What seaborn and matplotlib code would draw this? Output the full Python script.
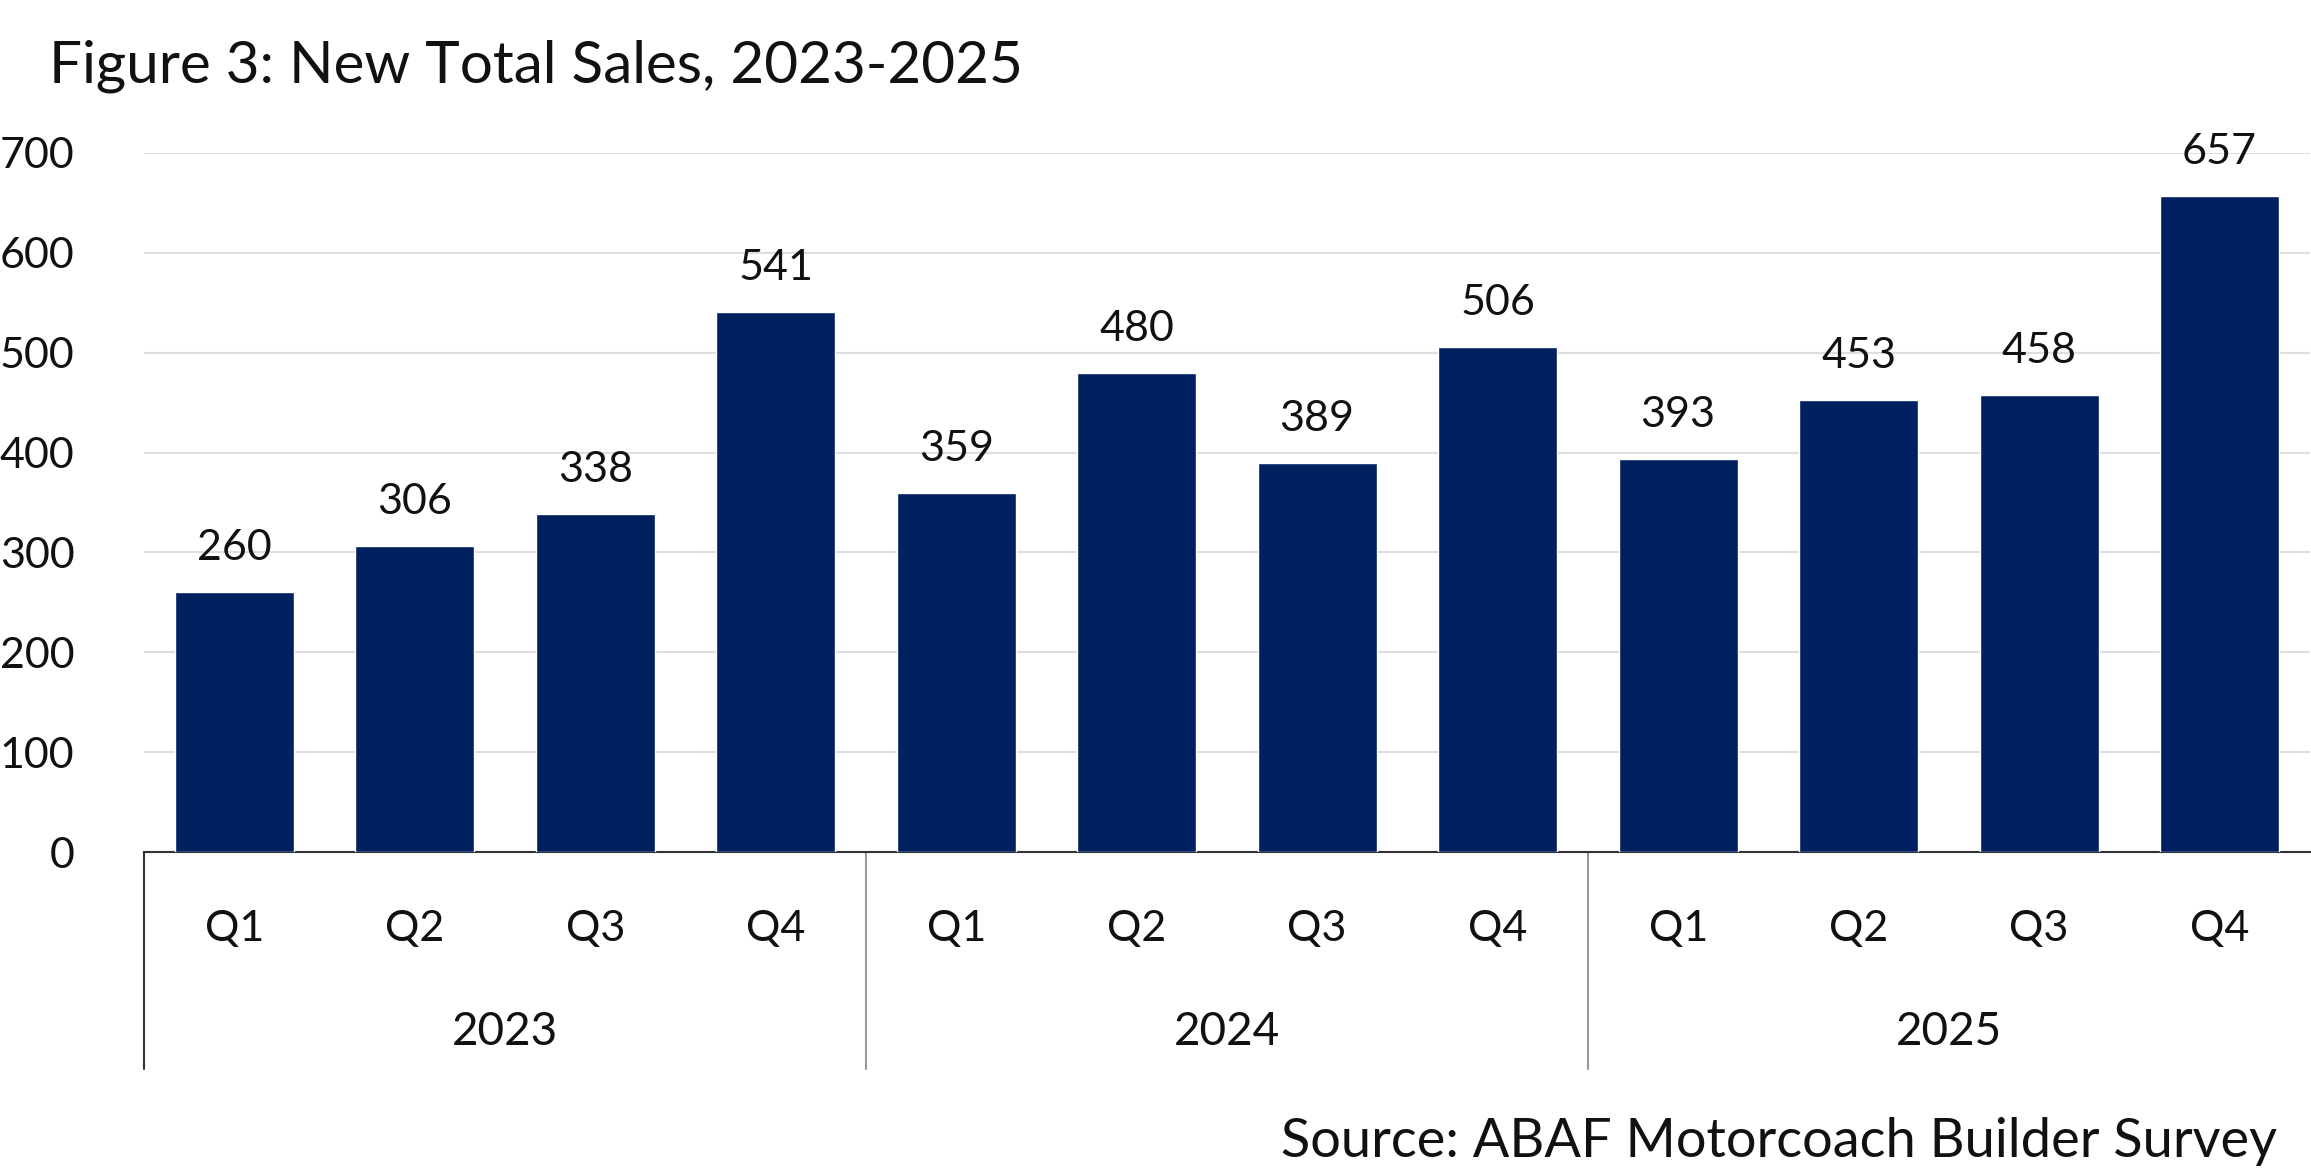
import pandas as pd
import matplotlib.pyplot as plt
import matplotlib.transforms as mtransforms
import seaborn as sns

years = ['2023', '2024', '2025']
quarters = ['Q1', 'Q2', 'Q3', 'Q4']
sales = [260, 306, 338, 541, 359, 480, 389, 506, 393, 453, 458, 657]

periods = [f"{y} {q}" for y in years for q in quarters]
df = pd.DataFrame({'Period': periods, 'Sales': sales})

sns.set_theme(style="white")
plt.rcParams['font.family'] = ['Lato', 'DejaVu Sans']

fig = plt.figure(figsize=(23.11, 11.76), dpi=100)
ax = fig.add_axes([0.0623, 0.2755, 0.9372, 0.5945])

sns.barplot(data=df, x='Period', y='Sales', color='#002060', width=0.66,
            saturation=1, ax=ax, zorder=3)
ax.bar_label(ax.containers[0], fontsize=31, padding=18, color='#111111')

ax.set_ylim(0, 700)
ax.set_xlim(-0.5, len(periods) - 0.5)
ax.set_yticks(range(0, 701, 100))
ax.yaxis.grid(True, color='#dedede', linewidth=1.5, zorder=0)
ax.set_axisbelow(True)

for side in ['left', 'right', 'top']:
    ax.spines[side].set_visible(False)
ax.spines['bottom'].set_color('#333333')
ax.spines['bottom'].set_linewidth(1.5)

ax.set_xticks(range(len(periods)))
ax.set_xticklabels(quarters * len(years))
ax.tick_params(axis='x', length=0, pad=42, labelsize=31, labelcolor='#111111')
ax.tick_params(axis='y', length=0, pad=50, labelsize=31, labelcolor='#111111')
ax.set_xlabel('')
ax.set_ylabel('')

# year group labels and separators below the axis
trans = mtransforms.blended_transform_factory(ax.transData, ax.transAxes)
for i, y in enumerate(years):
    ax.text(i * 4 + 1.5, -0.2575, y, transform=trans, ha='center', va='center',
            fontsize=33, color='#111111')
for i in range(len(years)):
    x = i * 4 - 0.5
    col = '#333333' if i == 0 else '#999999'
    ax.plot([x, x], [0, -0.31], transform=trans, color=col, linewidth=1.5,
            clip_on=False)

fig.text(0.021, 0.944, "Figure 3: New Total Sales, 2023-2025", fontsize=42,
         ha='left', va='center', color='#111111')
fig.text(0.9853, 0.029, "Source: ABAF Motorcoach Builder Survey", fontsize=39,
         ha='right', va='center', color='#111111')

fig.savefig('out.png', dpi=100)
plt.close(fig)
